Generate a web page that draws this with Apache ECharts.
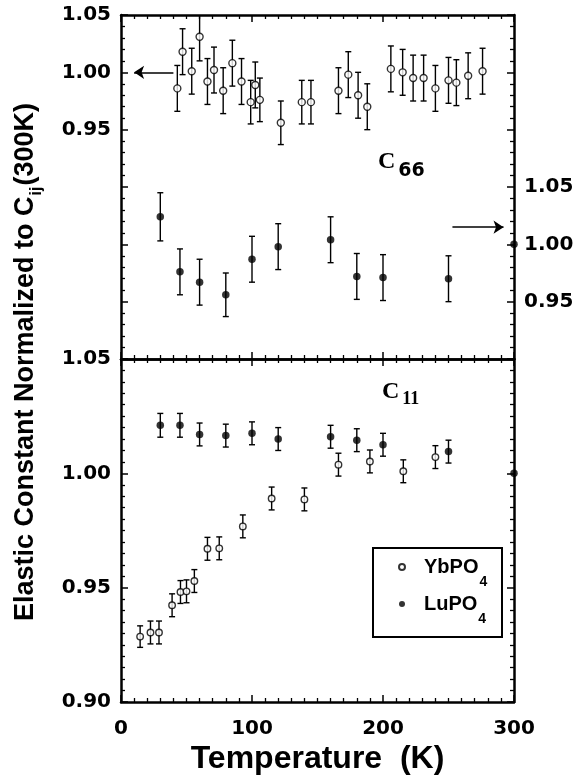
<!DOCTYPE html>
<html>
<head>
<meta charset="utf-8">
<script src="https://cdn.jsdelivr.net/npm/echarts@6/dist/echarts.min.js"></script>
<style>html,body{margin:0;padding:0;background:#fff}#c{width:581px;height:776px}</style>
</head>
<body>
<div id="c"></div>
<script>
// ---- data ----
const xTicks = [0, 100, 200, 300];
// C66 panel, YbPO4 (open circles, left axis)
const tYbC66 = [43, 47, 54, 60, 66, 71, 78, 85, 92, 99, 102.5, 106, 122, 138, 145, 166, 173.5, 181, 188, 206, 215, 223, 231, 240, 250, 256, 265, 276];
const vYbC66 = [0.986, 1.018, 1.001, 1.031, 0.992, 1.002, 0.984, 1.008, 0.992, 0.974, 0.989, 0.976, 0.956, 0.974, 0.974, 0.984, 0.998, 0.980, 0.970, 1.003, 1.000, 0.995, 0.995, 0.986, 0.993, 0.991, 0.997, 1.001];
const eYbC66 = [0.020, 0.020, 0.020, 0.021, 0.020, 0.020, 0.020, 0.020, 0.020, 0.019, 0.020, 0.019, 0.019, 0.019, 0.019, 0.020, 0.020, 0.020, 0.020, 0.020, 0.020, 0.020, 0.020, 0.020, 0.020, 0.020, 0.020, 0.020];
// C66 panel, LuPO4 (filled circles, right axis)
const tLuC66 = [30, 45, 60, 80, 100, 120, 160, 180, 200, 250, 300];
const vLuC66 = [1.024, 0.976, 0.967, 0.956, 0.987, 0.998, 1.004, 0.972, 0.971, 0.970, 1.000];
const eLuC66 = [0.021, 0.020, 0.020, 0.019, 0.020, 0.020, 0.020, 0.020, 0.020, 0.020, 0];
// C11 panel, YbPO4
const tYbC11 = [14.6, 22.5, 29, 39, 45.4, 50, 56, 66, 75, 93, 115, 140, 166, 190, 215.5, 240];
const vYbC11 = [0.9286, 0.9304, 0.9304, 0.9423, 0.9481, 0.9484, 0.9529, 0.967, 0.9672, 0.9768, 0.989, 0.9886, 1.0038, 1.0052, 1.0009, 1.0071];
const eYbC11 = [0.0047, 0.005, 0.005, 0.005, 0.005, 0.005, 0.005, 0.005, 0.005, 0.005, 0.005, 0.005, 0.005, 0.005, 0.005, 0.005];
// C11 panel, LuPO4
const tLuC11 = [30, 45, 60, 80, 100, 120, 160, 180, 200, 250, 300];
const vLuC11 = [1.021, 1.021, 1.017, 1.0165, 1.0175, 1.015, 1.016, 1.0145, 1.0125, 1.0095, 1.000];
const eLuC11 = [0.0052, 0.0052, 0.005, 0.005, 0.005, 0.005, 0.005, 0.005, 0.005, 0.005, 0];
const seriesNames = ['YbPO4', 'LuPO4'];

// ---- helpers ----
const SANS = '"Liberation Sans", Arial, sans-serif';
const DV = '"DejaVu Sans", sans-serif';
const SERIF = '"Liberation Serif", "Times New Roman", serif';
function zip(t, v) { return t.map((x, i) => [x, v[i]]); }
function zip3(t, v, e) { return t.map((x, i) => [x, v[i], e[i]]).filter(d => d[2] > 0); }
const near = (a, b) => Math.abs(a - b) < 1e-6;

function xAx(grid, pos, showLabel) {
  return {
    type: 'value', gridIndex: grid, position: pos, min: 0, max: 300, interval: 100,
    axisLine: { show: true, onZero: false, lineStyle: { color: '#000', width: 2.5 } },
    axisTick: { show: true, inside: true, length: 7, lineStyle: { color: '#000', width: 1.5 } },
    minorTick: { show: true, splitNumber: 10, length: 4, lineStyle: { color: '#000', width: 1.3 } },
    splitLine: { show: false },
    axisLabel: { show: showLabel, margin: 17, color: '#000', fontFamily: DV, fontWeight: 'bold', fontSize: 20,
      formatter: v => String(Math.round(v)) },
    name: showLabel ? 'Temperature  (K)' : '', nameLocation: 'middle', nameGap: 41,
    nameTextStyle: { color: '#000', fontFamily: SANS, fontWeight: 'bold', fontSize: 32 }
  };
}
function yAx(grid, pos, min, max, minorSplit, labelVals) {
  return {
    type: 'value', gridIndex: grid, position: pos, min: min, max: max, interval: 0.05,
    axisLine: { show: true, onZero: false, lineStyle: { color: '#000', width: 2.5 } },
    axisTick: { show: true, inside: true, length: 7, lineStyle: { color: '#000', width: 1.5 } },
    minorTick: { show: true, splitNumber: minorSplit, length: 4, lineStyle: { color: '#000', width: 1.3 } },
    splitLine: { show: false },
    axisLabel: { show: labelVals.length > 0, margin: 10, color: '#000', fontFamily: DV, fontWeight: 'bold', fontSize: 20,
      formatter: v => labelVals.some(l => near(l, v)) ? v.toFixed(2) : '' }
  };
}
function errRender(params, api) {
  const x = api.value(0), y = api.value(1), e = api.value(2);
  const a = api.coord([x, y + e]), b = api.coord([x, y - e]);
  const w = 3, st = { stroke: '#000', lineWidth: 1.4 };
  return { type: 'group', children: [
    { type: 'line', shape: { x1: a[0], y1: a[1], x2: b[0], y2: b[1] }, style: st },
    { type: 'line', shape: { x1: a[0] - w, y1: a[1], x2: a[0] + w, y2: a[1] }, style: st },
    { type: 'line', shape: { x1: b[0] - w, y1: b[1], x2: b[0] + w, y2: b[1] }, style: st }
  ]};
}
function errSeries(name, xi, yi, data) {
  return { name: name, type: 'custom', xAxisIndex: xi, yAxisIndex: yi, clip: true, silent: true,
    renderItem: errRender, encode: { x: 0, y: 1 }, data: data, z: 2 };
}
const openStyle = { color: '#fff', borderColor: '#000', borderWidth: 1.4 };
const fillStyle = { color: '#000', borderColor: '#000', borderWidth: 0 };
function sc(name, xi, yi, data, style, size, extra) {
  return Object.assign({ name: name, type: 'scatter', xAxisIndex: xi, yAxisIndex: yi, data: data,
    symbol: 'circle', symbolSize: size, itemStyle: style, z: 3, clip: false, silent: true }, extra || {});
}
function arrow(p0, p1) {
  return { silent: true, symbol: ['none', 'arrow'], symbolSize: 10, label: { show: false },
    lineStyle: { color: '#000', width: 1.5, type: 'solid' }, emphasis: { disabled: true },
    data: [[{ coord: p0 }, { coord: p1 }]] };
}

const chart = echarts.init(document.getElementById('c'), null, { renderer: 'canvas' });
chart.setOption({
  animation: false,
  backgroundColor: '#fff',
  grid: [
    { left: 121, right: 67, top: 15, height: 344 },
    { left: 121, right: 67, top: 359, height: 346 }
  ],
  xAxis: [xAx(0, 'bottom', false), xAx(0, 'top', false), xAx(1, 'bottom', true), xAx(1, 'top', false)],
  yAxis: [
    yAx(0, 'left', 0.75, 1.05, 5, [0.95, 1.00, 1.05]),
    yAx(0, 'right', 0.90, 1.20, 5, [0.95, 1.00, 1.05]),
    yAx(1, 'left', 0.90, 1.05, 10, [0.90, 0.95, 1.00, 1.05]),
    yAx(1, 'right', 0.90, 1.05, 10, [])
  ],
  legend: {
    data: seriesNames, orient: 'vertical', left: 398, top: 545, padding: 0,
    itemWidth: 6, itemHeight: 6, itemGap: -7, selectedMode: false,
    formatter: n => '{a|' + n.slice(0, -1) + '}{s|' + n.slice(-1) + '}',
    textStyle: { padding: [0, 0, 0, 14], rich: {
      a: { fontFamily: SANS, fontWeight: 'bold', fontSize: 20, lineHeight: 24, color: '#000' },
      s: { fontFamily: SANS, fontWeight: 'bold', fontSize: 14, lineHeight: 14, padding: [30, 0, 0, 1], color: '#000' }
    } }
  },
  graphic: [
    { type: 'rect', shape: { x: 373, y: 548, width: 129, height: 89 }, style: { fill: 'none', stroke: '#000', lineWidth: 2 }, z: 10 },
    { type: 'text', x: 378, y: 150, z: 10, style: { text: '{c|C}{s|66}', align: 'left', verticalAlign: 'top', rich: {
      c: { fontFamily: SERIF, fontWeight: 'bold', fontSize: 24, lineHeight: 24, fill: '#000', color: '#000' },
      s: { fontFamily: DV, fontWeight: 'bold', fontSize: 19, lineHeight: 19, padding: [19, 0, 0, 3], fill: '#000', color: '#000' }
    } } },
    { type: 'text', x: 382, y: 380, z: 10, style: { text: '{c|C}{s|11}', align: 'left', verticalAlign: 'top', rich: {
      c: { fontFamily: SERIF, fontWeight: 'bold', fontSize: 24, lineHeight: 24, fill: '#000', color: '#000' },
      s: { fontFamily: SERIF, fontWeight: 'bold', fontSize: 18, lineHeight: 18, padding: [14, 0, 0, 3], fill: '#000', color: '#000' }
    } } },
    { type: 'text', x: 25.5, y: 362, rotation: Math.PI / 2, z: 10, style: {
      text: '{t|Elastic Constant Normalized to C}{s|ij}{t|(300K)}', align: 'center', verticalAlign: 'middle', rich: {
        t: { fontFamily: SANS, fontWeight: 'bold', fontSize: 27, lineHeight: 27, fill: '#000', color: '#000' },
        s: { fontFamily: SANS, fontWeight: 'bold', fontSize: 16, lineHeight: 16, padding: [22, 1, 0, 1], fill: '#000', color: '#000' }
      } } }
  ],
  series: [
    errSeries('errYb66', 0, 0, zip3(tYbC66, vYbC66, eYbC66)),
    sc('YbPO4', 0, 0, zip(tYbC66, vYbC66), openStyle, 7, { markLine: arrow([40, 1.0], [10, 1.0]) }),
    errSeries('errLu66', 0, 1, zip3(tLuC66, vLuC66, eLuC66)),
    sc('LuPO4', 0, 1, zip(tLuC66, vLuC66), fillStyle, 7.5, { markLine: arrow([253, 1.015], [292, 1.015]) }),
    errSeries('errYb11', 2, 2, zip3(tYbC11, vYbC11, eYbC11)),
    sc('YbPO4', 2, 2, zip(tYbC11, vYbC11), openStyle, 6.5),
    errSeries('errLu11', 2, 2, zip3(tLuC11, vLuC11, eLuC11)),
    sc('LuPO4', 2, 2, zip(tLuC11, vLuC11), fillStyle, 7.5)
  ]
});
</script>
</body>
</html>
